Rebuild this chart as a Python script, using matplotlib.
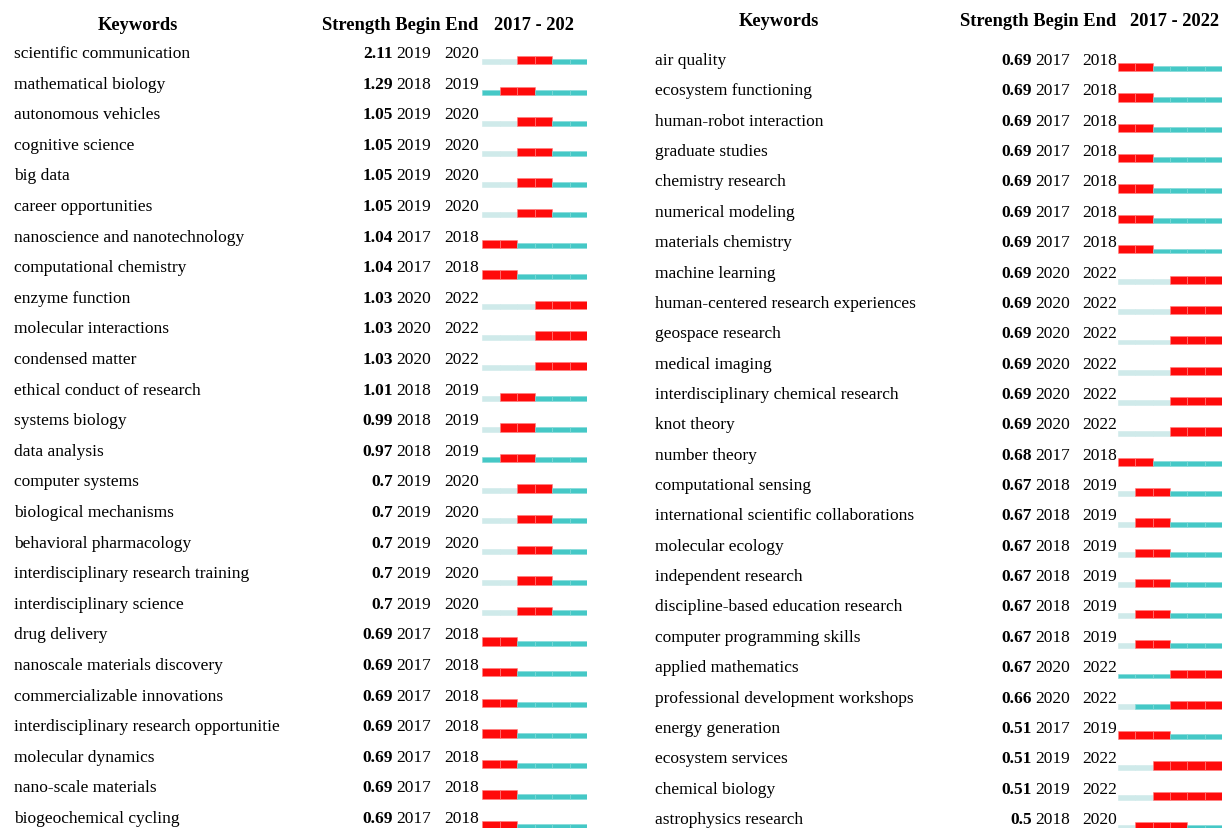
import matplotlib.pyplot as plt
from matplotlib.patches import Rectangle

# ---- data ----
years = [2017, 2018, 2019, 2020, 2021, 2022]

left_keywords = [
    'scientific communication', 'mathematical biology', 'autonomous vehicles',
    'cognitive science', 'big data', 'career opportunities',
    'nanoscience and nanotechnology', 'computational chemistry', 'enzyme function',
    'molecular interactions', 'condensed matter', 'ethical conduct of research',
    'systems biology', 'data analysis', 'computer systems', 'biological mechanisms',
    'behavioral pharmacology', 'interdisciplinary research training',
    'interdisciplinary science', 'drug delivery', 'nanoscale materials discovery',
    'commercializable innovations', 'interdisciplinary research opportunitie',
    'molecular dynamics', 'nano-scale materials', 'biogeochemical cycling']
left_strength = [2.11, 1.29, 1.05, 1.05, 1.05, 1.05, 1.04, 1.04, 1.03, 1.03, 1.03, 1.01,
                 0.99, 0.97, 0.7, 0.7, 0.7, 0.7, 0.7, 0.69, 0.69, 0.69, 0.69, 0.69, 0.69, 0.69]
left_begin = [2019, 2018, 2019, 2019, 2019, 2019, 2017, 2017, 2020, 2020, 2020, 2018,
              2018, 2018, 2019, 2019, 2019, 2019, 2019, 2017, 2017, 2017, 2017, 2017, 2017, 2017]
left_end = [2020, 2019, 2020, 2020, 2020, 2020, 2018, 2018, 2022, 2022, 2022, 2019,
            2019, 2019, 2020, 2020, 2020, 2020, 2020, 2018, 2018, 2018, 2018, 2018, 2018, 2018]
# first year the keyword shows up (years before it are drawn pale)
left_first = [2019, 2017, 2019, 2019, 2019, 2019, 2017, 2017, 2020, 2020, 2020, 2018,
              2018, 2017, 2019, 2019, 2019, 2019, 2019, 2017, 2017, 2017, 2017, 2017, 2017, 2017]

right_keywords = [
    'air quality', 'ecosystem functioning', 'human-robot interaction', 'graduate studies',
    'chemistry research', 'numerical modeling', 'materials chemistry', 'machine learning',
    'human-centered research experiences', 'geospace research', 'medical imaging',
    'interdisciplinary chemical research', 'knot theory', 'number theory',
    'computational sensing', 'international scientific collaborations',
    'molecular ecology', 'independent research', 'discipline-based education research',
    'computer programming skills', 'applied mathematics',
    'professional development workshops', 'energy generation', 'ecosystem services',
    'chemical biology', 'astrophysics research']
right_strength = [0.69, 0.69, 0.69, 0.69, 0.69, 0.69, 0.69, 0.69, 0.69, 0.69, 0.69, 0.69,
                  0.69, 0.68, 0.67, 0.67, 0.67, 0.67, 0.67, 0.67, 0.67, 0.66, 0.51, 0.51, 0.51, 0.5]
right_begin = [2017, 2017, 2017, 2017, 2017, 2017, 2017, 2020, 2020, 2020, 2020, 2020,
               2020, 2017, 2018, 2018, 2018, 2018, 2018, 2018, 2020, 2020, 2017, 2019, 2019, 2018]
right_end = [2018, 2018, 2018, 2018, 2018, 2018, 2018, 2022, 2022, 2022, 2022, 2022,
             2022, 2018, 2019, 2019, 2019, 2019, 2019, 2019, 2022, 2022, 2019, 2022, 2022, 2020]
right_first = [2017, 2017, 2017, 2017, 2017, 2017, 2017, 2020, 2020, 2020, 2020, 2020,
               2020, 2017, 2018, 2018, 2018, 2018, 2018, 2018, 2017, 2018, 2017, 2019, 2019, 2018]

RED = '#ff0a0a'
TEAL = '#45c8c6'
PALE = '#cfeaea'
FONT = 'Liberation Serif'

W, H = 1222, 829
fig = plt.figure(figsize=(W / 100, H / 100), dpi=100)


def panel(kw, strength, begin, end, first, x0, x1, y_row0, row_gap, head_y,
          kw_x, str_x, beg_x, end_x, bar_x0, bar_x1, year_label):
    n = len(kw)
    # text axes in pixel units for the panel
    ax = fig.add_axes([x0 / W, 0, (x1 - x0) / W, 1])
    ax.set_xlim(x0, x1)
    top = -y_row0 / row_gap
    bottom = (H - y_row0) / row_gap
    ax.set_ylim(bottom, top)
    ax.axis('off')

    head_row = (head_y - y_row0) / row_gap
    hs = dict(fontsize=13.3, fontweight='bold', family=FONT, va='center')
    ax.text(kw_x + 124, head_row, 'Keywords', ha='center', **hs)
    ax.text(end_x + 34, head_row, 'Strength Begin End', ha='right', **hs)
    ax.text(bar_x0 + 12, head_row, year_label, ha='left', **hs)

    ts = dict(fontsize=12.5, family=FONT, va='center')
    for i in range(n):
        ax.text(kw_x, i, kw[i], ha='left', **ts)
        ax.text(str_x, i, f'{strength[i]:g}', fontweight='bold', ha='right', **ts)
        ax.text(beg_x, i, str(begin[i]), ha='left', **ts)
        ax.text(end_x, i, str(end[i]), ha='left', **ts)

    # burst bars: x in years
    bx = fig.add_axes([bar_x0 / W, 0, (bar_x1 - bar_x0) / W, 1])
    bx.set_xlim(years[0], years[-1] + 1)
    bx.set_ylim(bottom, top)
    bx.axis('off')
    base = 0.37
    for i in range(n):
        for yr in years:
            if begin[i] <= yr <= end[i]:
                h, c, ec = 0.27, RED, '#ff8080'
            elif yr < first[i]:
                h, c, ec = 0.16, PALE, PALE
            else:
                h, c, ec = 0.16, TEAL, '#7fdad8'
            bx.add_patch(Rectangle((yr, i + base - h), 1, h, facecolor=c,
                                   edgecolor=ec, linewidth=0.4))


panel(left_keywords, left_strength, left_begin, left_end, left_first,
      0, 600, 54, 30.6, 25, 14, 393, 396, 444, 482, 587, '2017 - 202')
panel(right_keywords, right_strength, right_begin, right_end, right_first,
      622, 1222, 61, 30.36, 21, 655, 1032, 1035, 1082, 1118, 1222, '2017 - 2022')

fig.savefig('out.png', dpi=100)
